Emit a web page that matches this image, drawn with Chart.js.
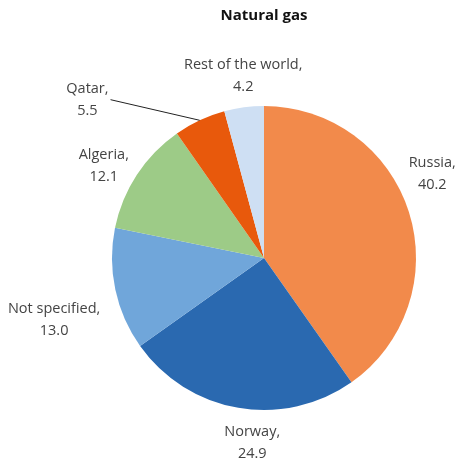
<!DOCTYPE html>
<html>
<head>
<meta charset="utf-8">
<script src="https://cdn.jsdelivr.net/npm/chart.js@4.4.0/dist/chart.umd.min.js"></script>
<style>
  body { margin: 0; background: #fff; }
</style>
</head>
<body>
<canvas id="grafico" width="455" height="467"></canvas>
<script>
// datos
const paises = ['Russia', 'Norway', 'Not specified', 'Algeria', 'Qatar', 'Rest of the world'];
const valores = [40.2, 24.9, 13.0, 12.1, 5.5, 4.2];
const colores = ['#F28A4B', '#2A69B0', '#70A6DA', '#9DCB87', '#E8590C', '#CEDFF3'];
const titulo = 'Natural gas';

// ajuste fino de las etiquetas (dx, dy) respecto a su punto sobre el radio
const ajusteEtiquetas = [[-11, -27], [20, 0], [-26, 23], [-3, 11], [-97, 12], [4, 4]];
const conLinea = [false, false, false, false, true, false];

const colorTexto = '#444444';
const fuente = '"Open Sans", "Noto Sans", sans-serif';

const etiquetasPlugin = {
  id: 'etiquetas',
  afterDraw(chart) {
    const c = chart.ctx;
    const meta = chart.getDatasetMeta(0);
    c.save();

    // titulo
    c.fillStyle = '#111';
    c.font = 'bold 15px ' + fuente;
    c.textAlign = 'center';
    c.textBaseline = 'middle';
    const area = chart.chartArea;
    c.fillText(titulo, (area.left + area.right) / 2, 16);

    c.font = '14.5px ' + fuente;
    meta.data.forEach((arco, i) => {
      const p = arco.getProps(['x', 'y', 'startAngle', 'endAngle', 'outerRadius'], true);
      const medio = (p.startAngle + p.endAngle) / 2;
      const r = p.outerRadius + 36;
      const lx = p.x + Math.cos(medio) * r + ajusteEtiquetas[i][0];
      const ly = p.y + Math.sin(medio) * r + ajusteEtiquetas[i][1];
      const linea1 = paises[i] + ',';
      const linea2 = valores[i].toFixed(1);

      c.fillStyle = colorTexto;
      c.fillText(linea1, lx, ly - 11);
      c.fillText(linea2, lx, ly + 11);

      if (conLinea[i]) {
        const ancho = Math.max(c.measureText(linea1).width, c.measureText(linea2).width);
        c.strokeStyle = '#222';
        c.lineWidth = 1;
        c.beginPath();
        c.moveTo(lx + ancho / 2 + 2, ly);
        c.lineTo(p.x + Math.cos(medio) * p.outerRadius, p.y + Math.sin(medio) * p.outerRadius);
        c.stroke();
      }
    });
    c.restore();
  }
};

new Chart(document.getElementById('grafico'), {
  type: 'pie',
  data: {
    labels: paises,
    datasets: [{
      data: valores,
      backgroundColor: colores,
      borderWidth: 0,
    }],
  },
  options: {
    responsive: false,
    animation: false,
    layout: {
      padding: { left: 112, right: 39, top: 106, bottom: 57 }
    },
    plugins: {
      legend: { display: false },
      tooltip: { enabled: false },
      title: { display: false }
    }
  },
  plugins: [etiquetasPlugin]
});
</script>
</body>
</html>
